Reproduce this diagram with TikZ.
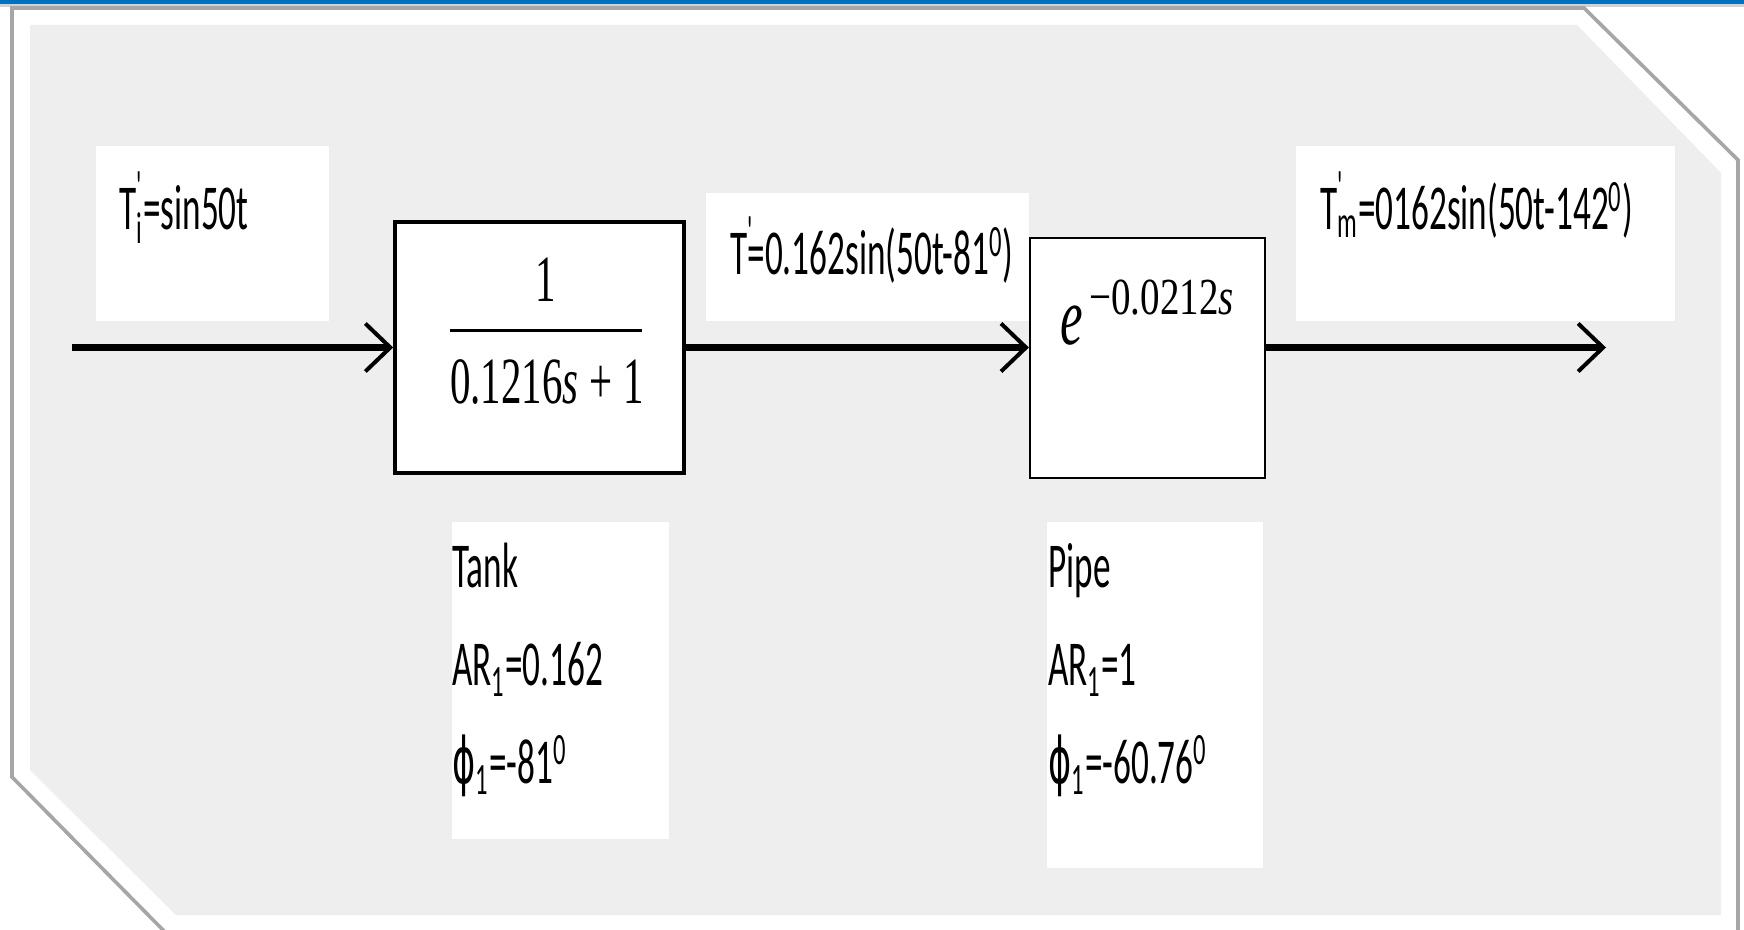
\documentclass[tikz,border=0pt]{standalone}
\usepackage{fontspec}
\usetikzlibrary{arrows.meta}
\newfontfamily\lblfont[FakeStretch=0.55]{Carlito}
\newfontfamily\phifont[FakeStretch=0.55]{DejaVu Sans}
\newfontfamily\tmsfont[FakeStretch=0.62]{Liberation Serif}
\newfontfamily\expfont[FakeStretch=0.75]{Liberation Serif}
\definecolor{panelgray}{RGB}{238,238,238}
\definecolor{topblue}{RGB}{0,112,192}
\newcommand\primeT{T\rlap{\raisebox{14pt}{\fontsize{22}{22}\selectfont'}}}
\tikzset{
  lblbox/.style={fill=white, draw=black!7, line width=0.5pt},
  lbl/.style={anchor=base west, inner sep=0pt, font=\lblfont\fontsize{32}{38}\selectfont},
  blk/.style={draw=black, fill=white, inner sep=0pt},
  fracfont/.style={inner sep=0pt, font=\tmsfont\fontsize{33}{40}\selectfont},
  sig/.style={line width=3.2pt, -{Straight Barb[length=12.5pt,width=24pt,line width=2pt]}},
}
\begin{document}
\begin{tikzpicture}[x=0.5pt,y=-0.5pt]
\useasboundingbox (0,0) rectangle (1744,930);
% top bar
\fill[topblue] (0,0) rectangle (1744,4);
\fill[black!18] (0,4) rectangle (1744,7);
% panel
\draw[fill=white, draw=black!35, line width=1.8pt] (12,8) -- (1584,8) -- (1738,160) -- (1738,932) -- (165,932) -- (12,777) -- cycle;
\fill[panelgray] (30,25) -- (1577,25) -- (1721,173) -- (1721,915) -- (176,915) -- (30,770) -- cycle;

% label boxes
\draw[lblbox] (95,146) rectangle (329,322);
\draw[lblbox] (705,193) rectangle (1029,322);
\draw[lblbox] (1295,146) rectangle (1675,322);
\draw[lblbox] (451,521) rectangle (669,839);
\draw[lblbox] (1046,521) rectangle (1263,868);

% blocks
\node[blk, line width=1.8pt, minimum width=144.5pt, minimum height=125.5pt] (tank) at (539.5,347.5) {};
\node[blk, line width=1.1pt, minimum width=117.5pt, minimum height=120pt] (pipe) at (1147.5,358) {};

% transfer functions
\node[fracfont, anchor=base] (num) at (546,302) {1};
\node[fracfont, anchor=base] (den) at (547,403) {0.1216{\itshape s}\,+\,1};
\draw[line width=1.5pt] (450,331) -- (642,331);
\node[anchor=base west, inner sep=0pt, font=\tmsfont\itshape\fontsize{41}{46}\selectfont] (ebase) at (1060,345) {e};
\node[anchor=base west, inner sep=0pt, font=\expfont\fontsize{26}{30}\selectfont] (eexp) at (1089,315) {−0.0212{\itshape s}};

% signals
\coordinate (in) at (72,347.5);
\coordinate (out) at (1606,347.5);
\draw[sig] (in) -- (tank.west);
\draw[sig] (tank.east) -- (tank.east -| pipe.west);
\draw[sig] (tank.east -| pipe.east) -- (out);

% labels
\node[lbl] (ti) at (119,230) {\primeT\textsubscript{i}=sin50t};
\node[lbl] (tt) at (730,275) {\primeT=0.162sin(50t-81\textsuperscript{0})};
\node[lbl] (tm) at (1320,230) {\primeT\textsubscript{m}=0162sin(50t-142\textsuperscript{0})};

\node[lbl] (tankname) at (452,587) {Tank};
\node[lbl] (tankar) at (452,685) {AR\textsubscript{1}=0.162};
\node[lbl] (tankphi) at (452,783) {{\phifont ϕ}\textsubscript{1}=-81\textsuperscript{0}};

\node[lbl] (pipename) at (1048,587) {Pipe};
\node[lbl] (pipear) at (1048,685) {AR\textsubscript{1}=1};
\node[lbl] (pipephi) at (1048,783) {{\phifont ϕ}\textsubscript{1}=-60.76\textsuperscript{0}};
\end{tikzpicture}
\end{document}
